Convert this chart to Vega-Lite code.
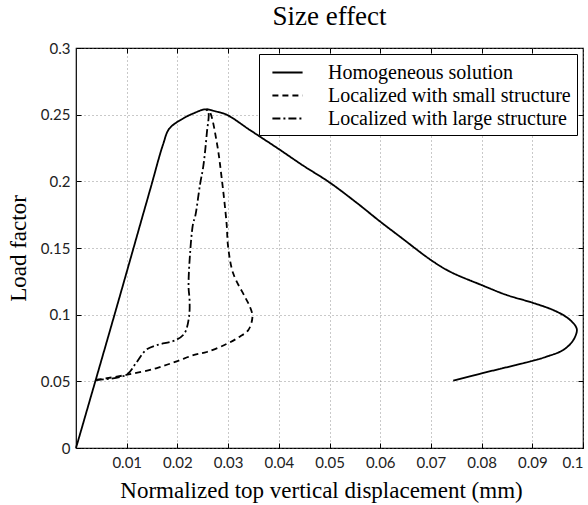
{
  "$schema": "https://vega.github.io/schema/vega-lite/v6.json",
  "autosize": {"type": "none"},
  "padding": {"left": 76, "top": 48, "right": 5, "bottom": 57},
  "width": 507,
  "height": 400,
  "background": "white",
  "title": {"text": "Size effect", "font": "Liberation Serif", "fontSize": 27, "fontWeight": "normal", "color": "black", "offset": 10, "anchor": "middle"},
  "config": {
    "view": {"stroke": "black", "strokeWidth": 1.2},
    "axis": {"domain": false, "grid": true, "gridColor": "#777", "gridDash": [1, 3], "gridWidth": 0.8, "tickColor": "black", "labelFont": "Lato", "labelFontSize": 15, "labelColor": "#222", "labelLimit": 400, "titleFont": "Liberation Serif", "titleFontSize": 23, "titleFontWeight": "normal", "titleColor": "black"}
  },
  "data": {"values": [
    {"series": "Homogeneous solution", "o": 1, "x": 0, "y": 0},
    {"series": "Homogeneous solution", "o": 2, "x": 0.0076, "y": 0.1},
    {"series": "Homogeneous solution", "o": 3, "x": 0.0146, "y": 0.1935},
    {"series": "Homogeneous solution", "o": 4, "x": 0.0172, "y": 0.228},
    {"series": "Homogeneous solution", "o": 5, "x": 0.0184, "y": 0.2395},
    {"series": "Homogeneous solution", "o": 6, "x": 0.0212, "y": 0.2473},
    {"series": "Homogeneous solution", "o": 7, "x": 0.0235, "y": 0.2515},
    {"series": "Homogeneous solution", "o": 8, "x": 0.0254, "y": 0.254},
    {"series": "Homogeneous solution", "o": 9, "x": 0.0275, "y": 0.2525},
    {"series": "Homogeneous solution", "o": 10, "x": 0.0297, "y": 0.25},
    {"series": "Homogeneous solution", "o": 11, "x": 0.0343, "y": 0.2385},
    {"series": "Homogeneous solution", "o": 12, "x": 0.04, "y": 0.2242},
    {"series": "Homogeneous solution", "o": 13, "x": 0.0448, "y": 0.2118},
    {"series": "Homogeneous solution", "o": 14, "x": 0.05, "y": 0.1992},
    {"series": "Homogeneous solution", "o": 15, "x": 0.0554, "y": 0.1838},
    {"series": "Homogeneous solution", "o": 16, "x": 0.06, "y": 0.1698},
    {"series": "Homogeneous solution", "o": 17, "x": 0.0639, "y": 0.1585},
    {"series": "Homogeneous solution", "o": 18, "x": 0.07, "y": 0.141},
    {"series": "Homogeneous solution", "o": 19, "x": 0.0738, "y": 0.1322},
    {"series": "Homogeneous solution", "o": 20, "x": 0.08, "y": 0.1222},
    {"series": "Homogeneous solution", "o": 21, "x": 0.0849, "y": 0.1148},
    {"series": "Homogeneous solution", "o": 22, "x": 0.09, "y": 0.109},
    {"series": "Homogeneous solution", "o": 23, "x": 0.0941, "y": 0.1035},
    {"series": "Homogeneous solution", "o": 24, "x": 0.0968, "y": 0.098},
    {"series": "Homogeneous solution", "o": 25, "x": 0.0984, "y": 0.0922},
    {"series": "Homogeneous solution", "o": 26, "x": 0.0988, "y": 0.0885},
    {"series": "Homogeneous solution", "o": 27, "x": 0.0981, "y": 0.081},
    {"series": "Homogeneous solution", "o": 28, "x": 0.0961, "y": 0.0735},
    {"series": "Homogeneous solution", "o": 29, "x": 0.0928, "y": 0.0685},
    {"series": "Homogeneous solution", "o": 30, "x": 0.09, "y": 0.0653},
    {"series": "Homogeneous solution", "o": 31, "x": 0.0849, "y": 0.0605},
    {"series": "Homogeneous solution", "o": 32, "x": 0.08, "y": 0.056},
    {"series": "Homogeneous solution", "o": 33, "x": 0.0744, "y": 0.0505},
    {"series": "Localized with small structure", "o": 1, "x": 0.0039, "y": 0.051},
    {"series": "Localized with small structure", "o": 2, "x": 0.0099, "y": 0.0548},
    {"series": "Localized with small structure", "o": 3, "x": 0.0158, "y": 0.0598},
    {"series": "Localized with small structure", "o": 4, "x": 0.0197, "y": 0.0648},
    {"series": "Localized with small structure", "o": 5, "x": 0.0233, "y": 0.0698},
    {"series": "Localized with small structure", "o": 6, "x": 0.0258, "y": 0.072},
    {"series": "Localized with small structure", "o": 7, "x": 0.0297, "y": 0.078},
    {"series": "Localized with small structure", "o": 8, "x": 0.0323, "y": 0.0835},
    {"series": "Localized with small structure", "o": 9, "x": 0.034, "y": 0.0885},
    {"series": "Localized with small structure", "o": 10, "x": 0.0348, "y": 0.0985},
    {"series": "Localized with small structure", "o": 11, "x": 0.0343, "y": 0.106},
    {"series": "Localized with small structure", "o": 12, "x": 0.0333, "y": 0.1135},
    {"series": "Localized with small structure", "o": 13, "x": 0.031, "y": 0.131},
    {"series": "Localized with small structure", "o": 14, "x": 0.03, "y": 0.151},
    {"series": "Localized with small structure", "o": 15, "x": 0.0297, "y": 0.1685},
    {"series": "Localized with small structure", "o": 16, "x": 0.0287, "y": 0.2035},
    {"series": "Localized with small structure", "o": 17, "x": 0.0278, "y": 0.2285},
    {"series": "Localized with small structure", "o": 18, "x": 0.0264, "y": 0.252},
    {"series": "Localized with small structure", "o": 19, "x": 0.0258, "y": 0.254},
    {"series": "Localized with large structure", "o": 1, "x": 0.0039, "y": 0.051},
    {"series": "Localized with large structure", "o": 2, "x": 0.0099, "y": 0.0548},
    {"series": "Localized with large structure", "o": 3, "x": 0.0118, "y": 0.0635},
    {"series": "Localized with large structure", "o": 4, "x": 0.0138, "y": 0.0735},
    {"series": "Localized with large structure", "o": 5, "x": 0.0158, "y": 0.077},
    {"series": "Localized with large structure", "o": 6, "x": 0.0197, "y": 0.081},
    {"series": "Localized with large structure", "o": 7, "x": 0.0214, "y": 0.086},
    {"series": "Localized with large structure", "o": 8, "x": 0.0223, "y": 0.0985},
    {"series": "Localized with large structure", "o": 9, "x": 0.0224, "y": 0.111},
    {"series": "Localized with large structure", "o": 10, "x": 0.0222, "y": 0.121},
    {"series": "Localized with large structure", "o": 11, "x": 0.0225, "y": 0.146},
    {"series": "Localized with large structure", "o": 12, "x": 0.0231, "y": 0.1685},
    {"series": "Localized with large structure", "o": 13, "x": 0.0235, "y": 0.1735},
    {"series": "Localized with large structure", "o": 14, "x": 0.0245, "y": 0.1985},
    {"series": "Localized with large structure", "o": 15, "x": 0.0251, "y": 0.211},
    {"series": "Localized with large structure", "o": 16, "x": 0.0258, "y": 0.236},
    {"series": "Localized with large structure", "o": 17, "x": 0.0261, "y": 0.252},
    {"series": "Localized with large structure", "o": 18, "x": 0.0256, "y": 0.254}
  ]},
  "layer": [
    {
      "mark": {"type": "line", "color": "black", "strokeWidth": 1.8, "interpolate": "catmull-rom"},
      "encoding": {
        "x": {"field": "x", "type": "quantitative", "scale": {"domain": [0, 0.1], "nice": false, "zero": false},
          "axis": {"orient": "bottom", "values": [0.01, 0.02, 0.03, 0.04, 0.05, 0.06, 0.07, 0.08, 0.09, 0.1], "format": "~g", "tickSize": -5, "labelPadding": 12, "title": "Normalized top vertical displacement (mm)", "titlePadding": 9, "titleX": 245}},
        "y": {"field": "y", "type": "quantitative", "scale": {"domain": [0, 0.3], "nice": false, "zero": false},
          "axis": {"orient": "left", "values": [0, 0.05, 0.1, 0.15, 0.2, 0.25, 0.3], "format": "~g", "tickSize": -5, "labelPadding": 11, "title": "Load factor", "titlePadding": 10}},
        "strokeDash": {"field": "series", "type": "nominal",
          "scale": {"domain": ["Homogeneous solution", "Localized with small structure", "Localized with large structure"], "range": [[1, 0], [6, 4], [8, 3, 2, 3]]},
          "legend": {"orient": "top-right", "offset": 6, "title": null, "strokeColor": "black", "fillColor": "white", "padding": 6, "labelFont": "Liberation Serif", "labelFontSize": 20, "labelColor": "black", "labelLimit": 400, "symbolType": "M-1.35,0H1.35", "symbolFillColor": "transparent", "symbolStrokeWidth": 1.8, "symbolStrokeColor": "black", "symbolSize": 500, "symbolOffset": 10, "labelOffset": 28, "rowPadding": 0}},
        "order": {"field": "o", "type": "quantitative"}
      }
    },
    {
      "mark": {"type": "line", "opacity": 0},
      "encoding": {
        "x": {"field": "x", "type": "quantitative", "axis": {"orient": "top", "values": [0.01, 0.02, 0.03, 0.04, 0.05, 0.06, 0.07, 0.08, 0.09], "labels": false, "grid": false, "tickSize": -5, "title": null}},
        "y": {"field": "y", "type": "quantitative", "axis": {"orient": "right", "values": [0.05, 0.1, 0.15, 0.2, 0.25], "labels": false, "grid": false, "tickSize": -5, "title": null}},
        "detail": {"field": "series"},
        "order": {"field": "o", "type": "quantitative"}
      }
    }
  ],
  "resolve": {"axis": {"x": "independent", "y": "independent"}}
}
